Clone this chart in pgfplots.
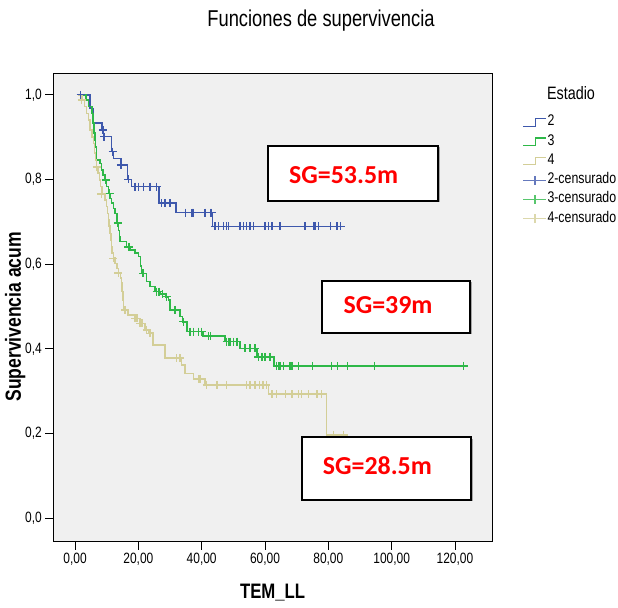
\documentclass[border=0pt]{standalone}
\usepackage{fontspec}
\setmainfont{Liberation Sans}[FakeStretch=0.8]
\newfontfamily\sgfont{Carlito}
\usepackage{pgfplots}
\pgfplotsset{compat=1.18}
\definecolor{cblue}{HTML}{3E58AC}
\definecolor{cgreen}{HTML}{2EB848}
\definecolor{ctan}{HTML}{D3CE97}
\definecolor{bgcol}{HTML}{F0F0F0}
\begin{document}
\begin{tikzpicture}
\useasboundingbox (0,0) rectangle (618bp,608bp);
\begin{axis}[
  at={(53.3bp,66.3bp)}, anchor=south west,
  width=438.7bp, height=468.4bp, scale only axis,
  xmin=-6.86, xmax=131.7, ymin=-0.0553, ymax=1.0507,
  axis background/.style={fill=bgcol},
  axis line style={black, line width=0.8bp},
  xtick={0,20,40,60,80,100,120},
  xticklabels={{0,00},{20,00},{40,00},{60,00},{80,00},{100,00},{120,00}},
  ytick={0,0.2,0.4,0.6,0.8,1.0},
  yticklabels={{0,0},{0,2},{0,4},{0,6},{0,8},{1,0}},
  tick align=outside, xtick pos=bottom, ytick pos=left,
  major tick length=8bp,
  tick style={black, line width=0.8bp},
  ticklabel style={font=\fontsize{15}{18}\selectfont},
  xlabel={\bfseries TEM\_LL},
  xlabel style={font=\fontsize{21}{24}\selectfont, at={(0.5,-0.1095)}, anchor=center},
  ylabel={\bfseries Supervivencia acum},
  ylabel style={font=\fontsize{22}{24}\selectfont, at={(-0.087,0.48)}, anchor=center},
  legend style={at={(1.07,0.913)}, anchor=north west, draw=none, fill=none,
    font=\fontsize{15.5}{17}\selectfont, row sep=3.3bp, inner sep=0pt,
    nodes={inner sep=0.5bp, text height=11bp, text depth=4bp}},
  legend cell align=left,
]
% survival step functions
\addplot[const plot, cblue, line width=1.5bp,
  legend image code/.code={\draw[cblue, line width=1.1bp] (0bp,-4bp) -- (12bp,-4bp) -- (12bp,3.5bp) -- (23bp,3.5bp);}]
 coordinates {(1.0,1.000) (4.8,0.967) (5.8,0.933) (8.6,0.917) (9.0,0.901) (11.6,0.866) (12.2,0.850) (14.5,0.834) (16.6,0.800) (17.9,0.783) (26.6,0.744) (31.9,0.722) (43.4,0.689) (84.3,0.689)};
\addlegendentry{2}
\addplot[const plot, cgreen, line width=1.5bp,
  legend image code/.code={\draw[cgreen, line width=1.1bp] (0bp,-4bp) -- (12bp,-4bp) -- (12bp,3.5bp) -- (23bp,3.5bp);}]
 coordinates {(1.0,1.000) (3.5,0.988) (4.2,0.972) (5.3,0.956) (5.6,0.933) (6.0,0.910) (6.3,0.893) (6.5,0.877) (6.8,0.846) (7.9,0.838) (8.4,0.822) (8.9,0.810) (9.4,0.799) (10.0,0.783) (10.5,0.767) (11.1,0.755) (11.6,0.744) (12.1,0.732) (12.6,0.720) (13.2,0.697) (13.7,0.680) (14.0,0.665) (14.2,0.653) (16.3,0.641) (17.4,0.634) (19.0,0.626) (20.0,0.618) (20.7,0.596) (21.0,0.578) (22.6,0.559) (23.7,0.547) (25.3,0.535) (27.0,0.529) (28.5,0.523) (29.5,0.515) (30.0,0.492) (33.2,0.476) (34.0,0.464) (35.3,0.441) (40.5,0.430) (47.4,0.417) (52.1,0.401) (57.4,0.381) (62.8,0.360) (123.2,0.360)};
\addlegendentry{3}
\addplot[const plot, ctan, line width=1.5bp,
  legend image code/.code={\draw[ctan, line width=1.1bp] (0bp,-4bp) -- (12bp,-4bp) -- (12bp,3.5bp) -- (23bp,3.5bp);}]
 coordinates {(1.0,1.000) (2.3,0.988) (3.0,0.972) (3.7,0.956) (4.2,0.940) (4.7,0.917) (5.3,0.900) (5.8,0.885) (6.1,0.862) (6.4,0.846) (6.8,0.829) (7.3,0.815) (7.7,0.799) (8.1,0.783) (8.5,0.766) (9.5,0.752) (9.9,0.736) (10.2,0.720) (10.5,0.704) (10.8,0.690) (11.1,0.673) (11.3,0.657) (11.5,0.641) (11.7,0.626) (12.1,0.614) (12.6,0.602) (13.2,0.590) (13.7,0.579) (14.3,0.567) (14.7,0.555) (14.9,0.535) (15.1,0.515) (15.3,0.492) (16.8,0.480) (19.0,0.472) (20.5,0.460) (22.1,0.445) (23.2,0.437) (24.7,0.409) (28.4,0.378) (33.7,0.362) (34.8,0.342) (37.4,0.329) (41.1,0.315) (61.1,0.293) (79.5,0.197) (85.6,0.197)};
\addlegendentry{4}
% censored observations
\addplot[only marks, mark=+, mark size=4bp, cblue, mark options={line width=1.4bp},
  legend image code/.code={\draw[cblue!80, line width=1.1bp] (0bp,0bp) -- (23bp,0bp); \draw[cblue!80, line width=1.1bp] (11.5bp,-4.5bp) -- (11.5bp,4.5bp);}]
 coordinates {(1.8,1.000) (8.8,0.917) (9.2,0.901) (11.9,0.866) (14.5,0.834) (16.8,0.800) (19.0,0.783) (20.0,0.783) (21.6,0.783) (23.7,0.783) (25.8,0.783) (27.4,0.744) (28.4,0.744) (30.0,0.744) (34.8,0.722) (36.9,0.722) (37.4,0.722) (41.1,0.722) (42.7,0.722) (43.2,0.722) (44.2,0.689) (45.3,0.689) (46.9,0.689) (47.9,0.689) (48.4,0.689) (52.1,0.689) (53.2,0.689) (54.2,0.689) (55.3,0.689) (56.3,0.689) (60.0,0.689) (61.1,0.689) (62.2,0.689) (64.8,0.689) (72.7,0.689) (75.3,0.689) (75.8,0.689) (76.9,0.689) (80.6,0.689) (82.7,0.689) (83.9,0.689)};
\addlegendentry{2-censurado}
\addplot[only marks, mark=+, mark size=4bp, cgreen, mark options={line width=1.4bp},
  legend image code/.code={\draw[cgreen!80, line width=1.1bp] (0bp,0bp) -- (23bp,0bp); \draw[cgreen!80, line width=1.1bp] (11.5bp,-4.5bp) -- (11.5bp,4.5bp);}]
 coordinates {(9.7,0.799) (10.9,0.767) (13.5,0.697) (16.8,0.641) (17.2,0.641) (21.5,0.578) (25.8,0.535) (26.5,0.535) (27.6,0.529) (28.9,0.523) (31.6,0.492) (34.2,0.464) (36.3,0.441) (37.4,0.441) (39.0,0.441) (40.0,0.441) (42.1,0.430) (42.7,0.430) (47.9,0.417) (48.4,0.417) (49.0,0.417) (50.0,0.417) (51.1,0.417) (53.7,0.401) (55.3,0.401) (56.9,0.401) (57.9,0.381) (59.0,0.381) (60.0,0.381) (61.6,0.381) (63.7,0.360) (64.2,0.360) (64.8,0.360) (65.8,0.360) (67.9,0.360) (68.5,0.360) (70.6,0.360) (75.1,0.360) (81.1,0.360) (82.9,0.360) (86.0,0.360) (94.5,0.360) (122.7,0.360)};
\addlegendentry{3-censurado}
\addplot[only marks, mark=+, mark size=4bp, ctan, mark options={line width=1.4bp},
  legend image code/.code={\draw[ctan!80, line width=1.1bp] (0bp,0bp) -- (23bp,0bp); \draw[ctan!80, line width=1.1bp] (11.5bp,-4.5bp) -- (11.5bp,4.5bp);}]
 coordinates {(2.1,0.988) (6.8,0.829) (8.3,0.766) (12.1,0.614) (13.7,0.579) (15.8,0.492) (19.0,0.472) (19.6,0.472) (20.5,0.460) (21.1,0.460) (22.6,0.445) (23.7,0.437) (32.1,0.378) (33.2,0.378) (39.0,0.329) (39.5,0.329) (41.6,0.315) (44.8,0.315) (47.9,0.315) (54.2,0.315) (55.3,0.315) (56.9,0.315) (58.2,0.315) (59.4,0.315) (60.4,0.315) (62.2,0.293) (63.7,0.293) (66.4,0.293) (68.5,0.293) (70.6,0.293) (71.6,0.293) (73.7,0.293) (76.4,0.293) (77.9,0.293) (81.6,0.197) (84.8,0.197)};
\addlegendentry{4-censurado}
\end{axis}
% title and legend title
\node[font=\fontsize{23}{26}\selectfont, anchor=base] at (321bp,581.3bp) {Funciones de supervivencia};
\node[font=\fontsize{18}{20}\selectfont, anchor=center] at (571bp,514.7bp) {Estadio};
% annotation boxes
\foreach \xa/\ya/\xb/\yb in {268/407.3/438.3/462.3, 321.7/275.3/470/327, 302/108/471/170.7}{
  \fill[black!35] (\xa bp+1.5bp,\ya bp-1.5bp) rectangle (\xb bp+1.5bp,\yb bp-1.5bp);
  \draw[black, line width=2bp, fill=white] (\xa bp,\ya bp) rectangle (\xb bp,\yb bp);
}
\node[anchor=base west, inner sep=0pt, text=red, font=\sgfont\bfseries\fontsize{26}{30}\selectfont] at (289bp,424.7bp) {SG=53.5m};
\node[anchor=base west, inner sep=0pt, text=red, font=\sgfont\bfseries\fontsize{26}{30}\selectfont] at (343.3bp,294.7bp) {SG=39m};
\node[anchor=base west, inner sep=0pt, text=red, font=\sgfont\bfseries\fontsize{26}{30}\selectfont] at (322.7bp,133bp) {SG=28.5m};
\end{tikzpicture}
\end{document}
